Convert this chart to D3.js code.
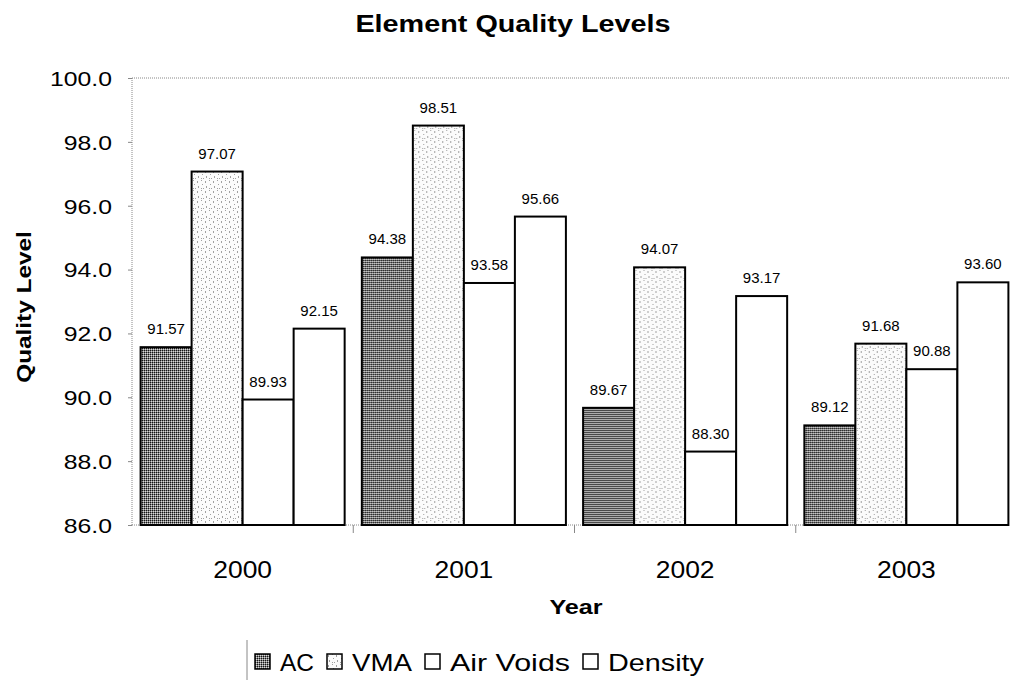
<!DOCTYPE html>
<html>
<head>
<meta charset="utf-8">
<script src="https://cdn.jsdelivr.net/npm/d3@7"></script>
<style>
  body { margin: 0; background: #fff; }
  text { font-family: "Liberation Sans", Arial, sans-serif; fill: #000; }
</style>
</head>
<body>
<div id="chart"></div>
<script>
var years = ["2000", "2001", "2002", "2003"]
var series = ["AC", "VMA", "Air Voids", "Density"]
var acValues = [91.57, 94.38, 89.67, 89.12]
var vmaValues = [97.07, 98.51, 94.07, 91.68]
var airVoidsValues = [89.93, 93.58, 88.30, 90.88]
var densityValues = [92.15, 95.66, 93.17, 93.60]
var yTicks = [86, 88, 90, 92, 94, 96, 98, 100]

var seriesValues = [acValues, vmaValues, airVoidsValues, densityValues]

var W = 1010, H = 683
var mLeft = 132, mTop = 78, mRight = 1017, mBottom = 525

var svg = d3.select("#chart").append("svg")
  .attr("width", W)
  .attr("height", H)

// fill patterns
var defs = svg.append("defs")
var pAC = defs.append("pattern").attr("id", "pAC")
  .attr("width", 2).attr("height", 2).attr("patternUnits", "userSpaceOnUse")
pAC.append("rect").attr("width", 2).attr("height", 2).attr("fill", "#808080")
pAC.append("rect").attr("width", 1).attr("height", 1).attr("fill", "#141414")
pAC.append("rect").attr("x", 1).attr("y", 1).attr("width", 1).attr("height", 1).attr("fill", "#d8d8d8")

var pVMA = defs.append("pattern").attr("id", "pVMA")
  .attr("width", 8).attr("height", 10).attr("patternUnits", "userSpaceOnUse")
pVMA.append("rect").attr("width", 8).attr("height", 10).attr("fill", "#fbfbfb")
var dots = [[1, 1], [1, 2], [5, 0], [6, 4], [2, 6], [2, 7], [5, 8], [7, 8]]
dots.forEach(function (d) {
  pVMA.append("rect").attr("x", d[0]).attr("y", d[1]).attr("width", 1).attr("height", 1).attr("fill", "#a0a0a0")
})

var fills = ["url(#pAC)", "url(#pVMA)", "#fff", "#fff"]

var x0 = d3.scaleBand().domain(years).range([mLeft, mRight])
var x1 = d3.scaleBand().domain(series).range([8.6, x0.bandwidth() - 8.6])
var y = d3.scaleLinear().domain([86, 100]).range([mBottom, mTop])

// title
svg.append("text")
  .attr("transform", "translate(513,32) scale(1.2,1)")
  .attr("text-anchor", "middle")
  .attr("font-size", 24).attr("font-weight", "bold")
  .text("Element Quality Levels")

// frame lines (dotted grey)
svg.append("line").attr("x1", mLeft).attr("x2", mRight).attr("y1", mTop).attr("y2", mTop)
  .attr("stroke", "#888").attr("stroke-dasharray", "1,1")
svg.append("line").attr("x1", mLeft).attr("x2", mLeft).attr("y1", mTop).attr("y2", mBottom)
  .attr("stroke", "#888").attr("stroke-dasharray", "1,1")
svg.append("line").attr("x1", mLeft).attr("x2", mRight).attr("y1", mBottom).attr("y2", mBottom)
  .attr("stroke", "#888").attr("stroke-dasharray", "1,1")

// y axis
var yAxis = svg.append("g").attr("transform", "translate(" + mLeft + ",0)")
  .call(d3.axisLeft(y).tickValues(yTicks).tickSize(4).tickFormat(d3.format(".1f")))
yAxis.select(".domain").remove()
yAxis.selectAll(".tick line").attr("stroke", "#888")
yAxis.selectAll(".tick text")
  .attr("font-size", 21).attr("font-family", "Liberation Sans, Arial, sans-serif")
  .attr("x", 0).attr("dy", null).attr("dominant-baseline", "central")
  .attr("transform", "translate(-20,0) scale(1.18,1)")

// x axis
var xAxis = svg.append("g").attr("transform", "translate(0," + mBottom + ")")
  .call(d3.axisBottom(x0).tickSize(0))
xAxis.select(".domain").remove()
xAxis.selectAll(".tick text")
  .attr("font-size", 23).attr("font-family", "Liberation Sans, Arial, sans-serif")
  .attr("y", 0).attr("dy", null)
  .attr("transform", "translate(0,53) scale(1.15,1)")
svg.selectAll(".xsep").data(years.slice(1)).enter().append("line")
  .attr("class", "xsep")
  .attr("x1", function (d) { return x0(d) }).attr("x2", function (d) { return x0(d) })
  .attr("y1", mBottom).attr("y2", mBottom + 8)
  .attr("stroke", "#888")

// axis titles
svg.append("text")
  .attr("transform", "translate(576,614) scale(1.2,1)")
  .attr("text-anchor", "middle")
  .attr("font-size", 21).attr("font-weight", "bold")
  .text("Year")
svg.append("text")
  .attr("transform", "translate(31,307) rotate(-90) scale(1.16,1)")
  .attr("text-anchor", "middle")
  .attr("font-size", 21).attr("font-weight", "bold")
  .text("Quality Level")

// bars
var groups = svg.selectAll(".year").data(years).enter().append("g")
  .attr("class", "year")
  .attr("transform", function (d) { return "translate(" + x0(d) + ",0)" })

groups.selectAll("rect").data(function (d, i) {
  return series.map(function (s, j) { return { s: s, v: seriesValues[j][i], j: j } })
}).enter().append("rect")
  .attr("x", function (d) { return x1(d.s) })
  .attr("y", function (d) { return y(d.v) })
  .attr("width", x1.bandwidth())
  .attr("height", function (d) { return mBottom - y(d.v) })
  .attr("fill", function (d) { return fills[d.j] })
  .attr("stroke", "#000").attr("stroke-width", 2)

groups.selectAll(".lbl").data(function (d, i) {
  return series.map(function (s, j) { return { s: s, v: seriesValues[j][i] } })
}).enter().append("text")
  .attr("class", "lbl")
  .attr("x", function (d) { return x1(d.s) + x1.bandwidth() / 2 })
  .attr("y", function (d) { return y(d.v) - 13 })
  .attr("text-anchor", "middle")
  .attr("font-size", 15)
  .text(function (d) { return d3.format(".2f")(d.v) })

// legend
svg.append("line").attr("x1", 247).attr("x2", 247).attr("y1", 640).attr("y2", 680)
  .attr("stroke", "#888")
var legendX = [255, 327, 425, 583]
var legendW = [34, 60, 120, 96]
var leg = svg.selectAll(".leg").data(series).enter().append("g")
  .attr("class", "leg")
  .attr("transform", function (d, i) { return "translate(" + legendX[i] + ",654)" })
leg.append("rect").attr("width", 15).attr("height", 15)
  .attr("fill", function (d, i) { return fills[i] })
  .attr("stroke", "#000").attr("stroke-width", 1.5)
leg.append("text")
  .attr("x", 25).attr("y", 17)
  .attr("font-size", 24)
  .attr("textLength", function (d, i) { return legendW[i] })
  .attr("lengthAdjust", "spacingAndGlyphs")
  .text(function (d) { return d })
</script>
</body>
</html>
